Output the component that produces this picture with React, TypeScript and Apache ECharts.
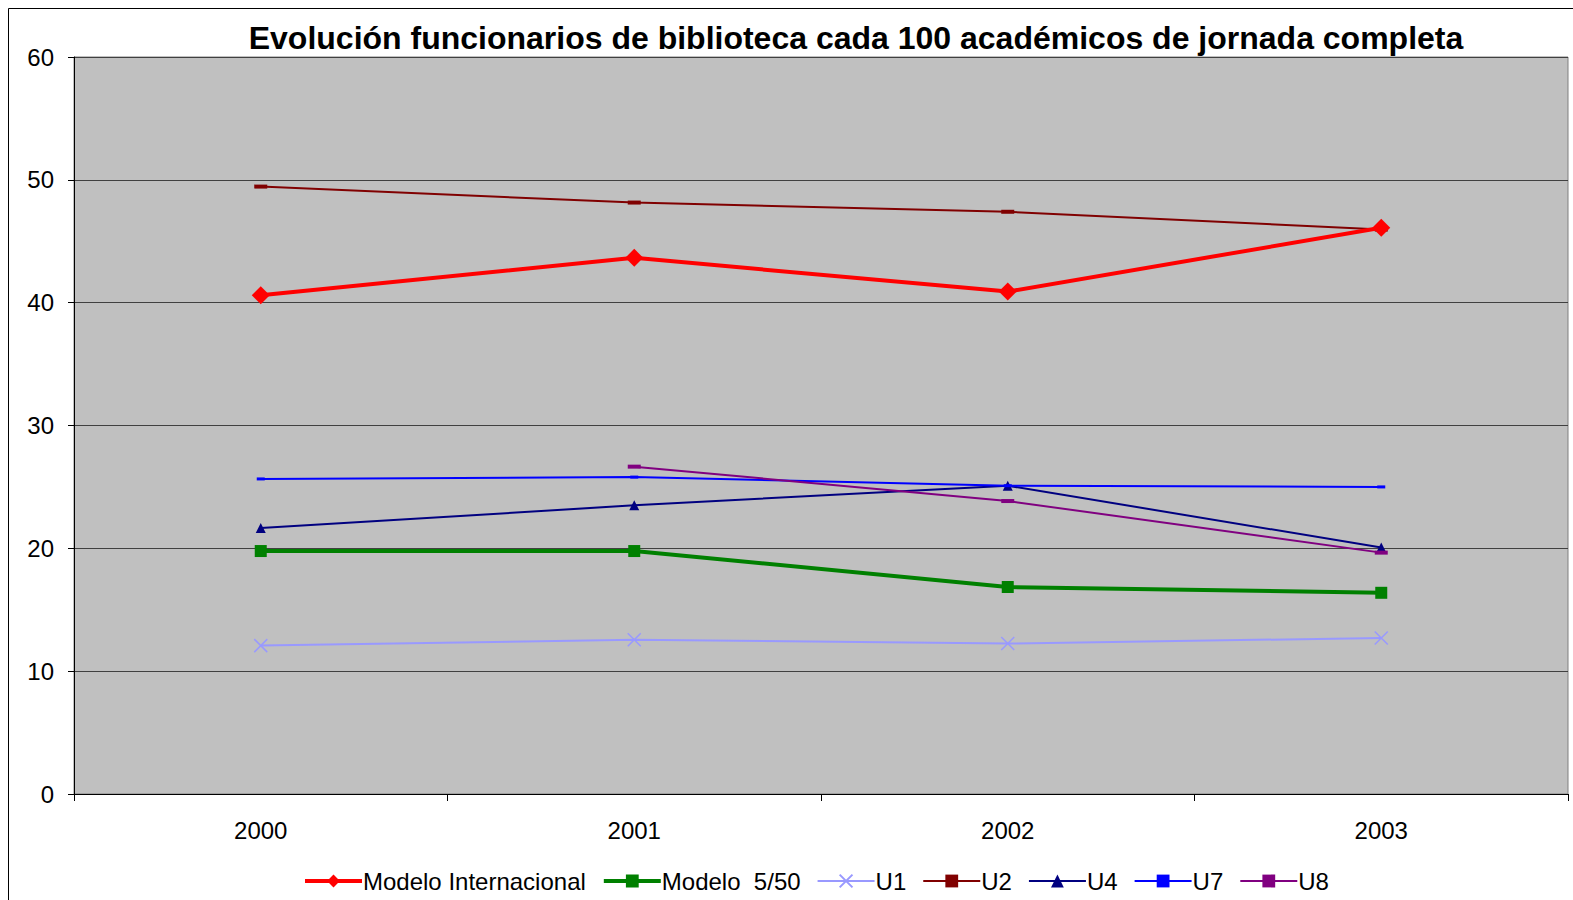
import React, { useEffect, useRef } from "react";
import * as echarts from "echarts";

const years = ["2000", "2001", "2002", "2003"];
const modeloInternacional = [40.6, 43.65, 40.9, 46.1];
const modelo550 = [19.78, 19.78, 16.85, 16.38];
const u1 = [12.08, 12.55, 12.25, 12.7];
const u2 = [49.45, 48.15, 47.4, 45.95];
const u4 = [21.65, 23.5, 25.1, 20.07];
const u7 = [25.65, 25.8, 25.1, 25.0];
const u8 = [null, 26.65, 23.85, 19.65];

const FONT = "'Liberation Sans', Arial, sans-serif";

export default function App() {
  const ref = useRef<HTMLDivElement>(null);
  useEffect(() => {
    const chart = echarts.init(ref.current!, null, { renderer: "svg" });
    const dash = "rect";
    chart.setOption({
      animation: false,
      backgroundColor: "#ffffff",
      title: {
        text: "Evolución funcionarios de biblioteca cada 100 académicos de jornada completa",
        left: 851,
        textAlign: "center",
        top: 17,
        textStyle: { fontFamily: FONT, fontSize: 32, fontWeight: "bold", color: "#000" },
      },
      graphic: [
        {
          type: "rect",
          shape: { x: 8.5, y: 8.5, width: 1600, height: 1000 },
          style: { fill: "none", stroke: "#000", lineWidth: 1 },
          silent: true,
          z: -1,
        },
      ],
      legend: {
        bottom: 2,
        left: 298,
        itemWidth: 57,
        itemHeight: 16,
        itemGap: 16,
        textStyle: { fontFamily: FONT, fontSize: 24, color: "#000", padding: [0, 0, 0, -4] },
        data: [
          { name: "Modelo Internacional", lineStyle: { width: 4 } },
          { name: "Modelo  5/50", lineStyle: { width: 4 } },
          { name: "U1", lineStyle: { width: 2 } },
          { name: "U2", lineStyle: { width: 2 } },
          { name: "U4", lineStyle: { width: 2 } },
          { name: "U7", lineStyle: { width: 2 } },
          { name: "U8", lineStyle: { width: 2 } },
        ],
      },
      grid: {
        left: 74,
        top: 57,
        right: 5,
        bottom: 106,
        show: true,
        backgroundColor: "#C0C0C0",
        borderColor: "#808080",
        borderWidth: 1,
      },
      xAxis: {
        type: "category",
        data: years,
        boundaryGap: true,
        axisLine: { lineStyle: { color: "#000", width: 1 } },
        axisTick: { show: true, length: 7, lineStyle: { color: "#000" } },
        axisLabel: { fontFamily: FONT, fontSize: 24, color: "#000", margin: 24 },
      },
      yAxis: {
        type: "value",
        min: 0,
        max: 60,
        interval: 10,
        axisLine: { show: true, lineStyle: { color: "#000", width: 1 } },
        axisTick: { show: true, length: 6, lineStyle: { color: "#000" } },
        axisLabel: { fontFamily: FONT, fontSize: 24, color: "#000", margin: 20 },
        splitLine: { show: true, lineStyle: { color: "#404040", width: 1 } },
      },
      series: [
        {
          name: "Modelo Internacional",
          type: "line",
          data: modeloInternacional,
          symbol: "diamond",
          symbolSize: 18,
          itemStyle: { color: "#FF0000" },
          lineStyle: { color: "#FF0000", width: 4 },
          z: 10,
        },
        {
          name: "Modelo  5/50",
          type: "line",
          data: modelo550,
          symbol: "rect",
          symbolSize: 12,
          itemStyle: { color: "#008000" },
          lineStyle: { color: "#008000", width: 4 },
          z: 9,
        },
        {
          name: "U1",
          type: "line",
          data: u1,
          symbol: "path://M0,0 L10,10 M10,0 L0,10",
          symbolSize: 13,
          itemStyle: { color: "transparent", borderColor: "#9999FF", borderWidth: 1.5 },
          lineStyle: { color: "#9999FF", width: 2 },
        },
        {
          name: "U2",
          type: "line",
          data: u2,
          symbol: dash,
          symbolSize: [13, 4],
          itemStyle: { color: "#800000" },
          lineStyle: { color: "#800000", width: 2 },
        },
        {
          name: "U4",
          type: "line",
          data: u4,
          symbol: "triangle",
          symbolSize: 10,
          itemStyle: { color: "#000080" },
          lineStyle: { color: "#000080", width: 2 },
        },
        {
          name: "U7",
          type: "line",
          data: u7,
          symbol: dash,
          symbolSize: [8, 3],
          itemStyle: { color: "#0000FF" },
          lineStyle: { color: "#0000FF", width: 2 },
        },
        {
          name: "U8",
          type: "line",
          data: u8,
          symbol: dash,
          symbolSize: [13, 4],
          itemStyle: { color: "#800080" },
          lineStyle: { color: "#800080", width: 2 },
        },
      ],
    });
    return () => chart.dispose();
  }, []);
  return (
    <div
      ref={ref}
      style={{ position: "fixed", left: 0, top: 0, width: 1573, height: 900 }}
    />
  );
}
